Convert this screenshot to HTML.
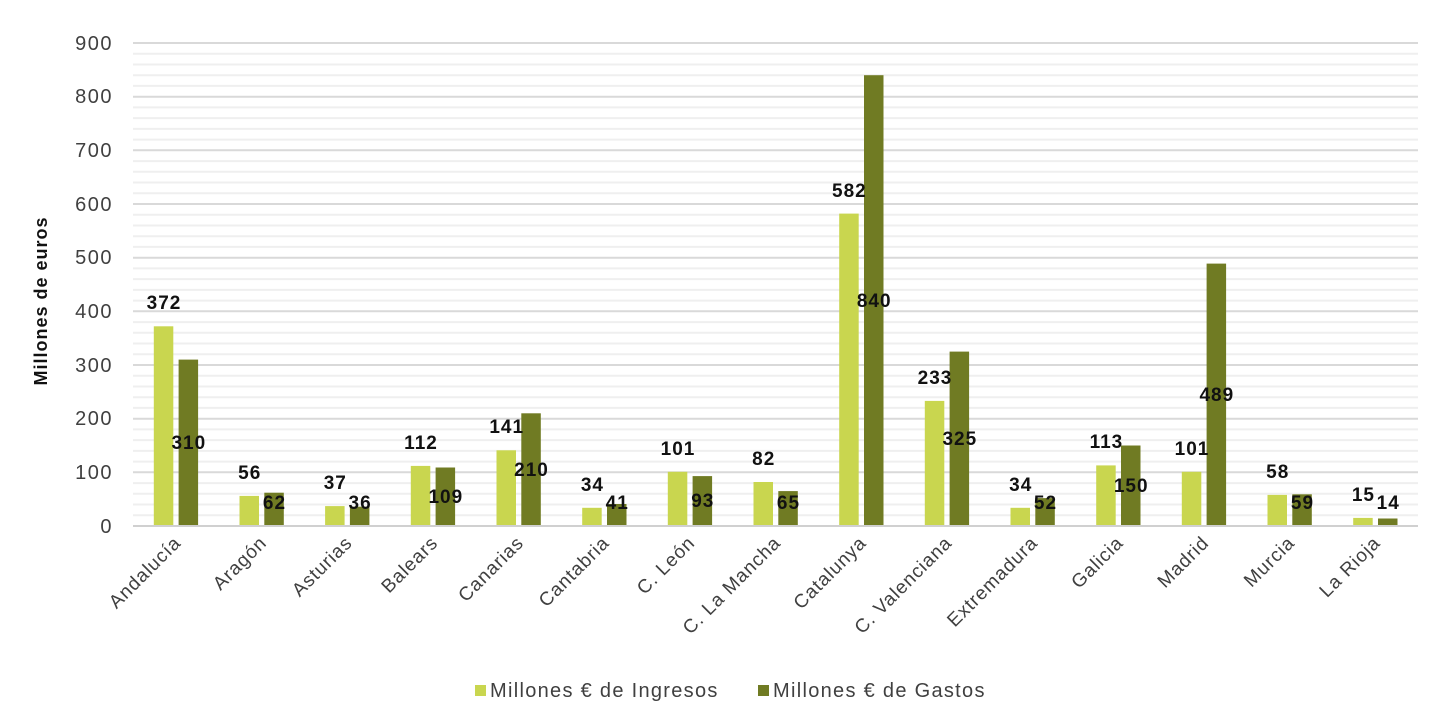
<!DOCTYPE html>
<html><head><meta charset="utf-8"><style>html,body{margin:0;padding:0;background:#fff;}svg{display:block;font-family:"Liberation Sans",sans-serif;}</style></head>
<body>
<svg width="1452" height="718" viewBox="0 0 1452 718">
<g stroke="#efefef" stroke-width="2">
<line x1="133" x2="1418" y1="515.3" y2="515.3"/><line x1="133" x2="1418" y1="504.5" y2="504.5"/><line x1="133" x2="1418" y1="493.8" y2="493.8"/><line x1="133" x2="1418" y1="483.1" y2="483.1"/>
<line x1="133" x2="1418" y1="461.6" y2="461.6"/><line x1="133" x2="1418" y1="450.9" y2="450.9"/><line x1="133" x2="1418" y1="440.1" y2="440.1"/><line x1="133" x2="1418" y1="429.4" y2="429.4"/>
<line x1="133" x2="1418" y1="407.9" y2="407.9"/><line x1="133" x2="1418" y1="397.2" y2="397.2"/><line x1="133" x2="1418" y1="386.5" y2="386.5"/><line x1="133" x2="1418" y1="375.7" y2="375.7"/>
<line x1="133" x2="1418" y1="354.3" y2="354.3"/><line x1="133" x2="1418" y1="343.5" y2="343.5"/><line x1="133" x2="1418" y1="332.8" y2="332.8"/><line x1="133" x2="1418" y1="322.1" y2="322.1"/>
<line x1="133" x2="1418" y1="300.6" y2="300.6"/><line x1="133" x2="1418" y1="289.9" y2="289.9"/><line x1="133" x2="1418" y1="279.1" y2="279.1"/><line x1="133" x2="1418" y1="268.4" y2="268.4"/>
<line x1="133" x2="1418" y1="246.9" y2="246.9"/><line x1="133" x2="1418" y1="236.2" y2="236.2"/><line x1="133" x2="1418" y1="225.5" y2="225.5"/><line x1="133" x2="1418" y1="214.7" y2="214.7"/>
<line x1="133" x2="1418" y1="193.3" y2="193.3"/><line x1="133" x2="1418" y1="182.5" y2="182.5"/><line x1="133" x2="1418" y1="171.8" y2="171.8"/><line x1="133" x2="1418" y1="161.1" y2="161.1"/>
<line x1="133" x2="1418" y1="139.6" y2="139.6"/><line x1="133" x2="1418" y1="128.9" y2="128.9"/><line x1="133" x2="1418" y1="118.1" y2="118.1"/><line x1="133" x2="1418" y1="107.4" y2="107.4"/>
<line x1="133" x2="1418" y1="85.9" y2="85.9"/><line x1="133" x2="1418" y1="75.2" y2="75.2"/><line x1="133" x2="1418" y1="64.5" y2="64.5"/><line x1="133" x2="1418" y1="53.7" y2="53.7"/>
</g>
<g stroke="#d9d9d9" stroke-width="2">
<line x1="133" x2="1418" y1="472.3" y2="472.3"/><line x1="133" x2="1418" y1="418.7" y2="418.7"/><line x1="133" x2="1418" y1="365" y2="365"/><line x1="133" x2="1418" y1="311.3" y2="311.3"/><line x1="133" x2="1418" y1="257.7" y2="257.7"/><line x1="133" x2="1418" y1="204" y2="204"/><line x1="133" x2="1418" y1="150.3" y2="150.3"/><line x1="133" x2="1418" y1="96.7" y2="96.7"/><line x1="133" x2="1418" y1="43" y2="43"/>
</g>
<g font-size="20" fill="#404040" text-anchor="end" letter-spacing="1.5">
<text x="113" y="533">0</text><text x="113" y="479">100</text><text x="113" y="425">200</text><text x="113" y="372">300</text><text x="113" y="318">400</text><text x="113" y="264">500</text><text x="113" y="211">600</text><text x="113" y="157">700</text><text x="113" y="103">800</text><text x="113" y="50">900</text>
</g>
<text transform="translate(47,301) rotate(-90)" text-anchor="middle" font-size="18" font-weight="bold" fill="#111" letter-spacing="1">Millones de euros</text>
<g fill="#c9d64f">
<rect x="153.8" y="326.3" width="19.5" height="199.7"/><rect x="239.5" y="495.9" width="19.5" height="30.1"/><rect x="325.1" y="506.1" width="19.5" height="19.9"/><rect x="410.8" y="465.9" width="19.5" height="60.1"/><rect x="496.5" y="450.3" width="19.5" height="75.7"/><rect x="582.2" y="507.8" width="19.5" height="18.2"/><rect x="667.8" y="471.8" width="19.5" height="54.2"/><rect x="753.5" y="482" width="19.5" height="44"/><rect x="839.2" y="213.6" width="19.5" height="312.4"/><rect x="924.8" y="400.9" width="19.5" height="125.1"/><rect x="1010.5" y="507.8" width="19.5" height="18.2"/><rect x="1096.2" y="465.4" width="19.5" height="60.6"/><rect x="1181.8" y="471.8" width="19.5" height="54.2"/><rect x="1267.5" y="494.9" width="19.5" height="31.1"/><rect x="1353.2" y="517.9" width="19.5" height="8.1"/>
</g>
<g fill="#707b23">
<rect x="178.6" y="359.6" width="19.5" height="166.4"/><rect x="264.3" y="492.7" width="19.5" height="33.3"/><rect x="349.9" y="506.7" width="19.5" height="19.3"/><rect x="435.6" y="467.5" width="19.5" height="58.5"/><rect x="521.3" y="413.3" width="19.5" height="112.7"/><rect x="607" y="504" width="19.5" height="22"/><rect x="692.6" y="476.1" width="19.5" height="49.9"/><rect x="778.3" y="491.1" width="19.5" height="34.9"/><rect x="864" y="75.2" width="19.5" height="450.8"/><rect x="949.6" y="351.6" width="19.5" height="174.4"/><rect x="1035.3" y="498.1" width="19.5" height="27.9"/><rect x="1121" y="445.5" width="19.5" height="80.5"/><rect x="1206.6" y="263.6" width="19.5" height="262.4"/><rect x="1292.3" y="494.3" width="19.5" height="31.7"/><rect x="1378" y="518.5" width="19.5" height="7.5"/>
</g>
<line x1="133" x2="1418" y1="526" y2="526" stroke="#d0d0d0" stroke-width="2"/>
<g font-size="19" font-weight="bold" fill="#111" text-anchor="middle" letter-spacing="1">
<text x="164" y="309">372</text><text x="249.7" y="479">56</text><text x="335.3" y="489">37</text><text x="421" y="449">112</text><text x="506.7" y="433">141</text><text x="592.4" y="491">34</text><text x="678" y="455">101</text><text x="763.7" y="465">82</text><text x="849.4" y="197">582</text><text x="935" y="384">233</text><text x="1020.7" y="491">34</text><text x="1106.4" y="448">113</text><text x="1192" y="455">101</text><text x="1277.7" y="478">58</text><text x="1363.4" y="501">15</text>
<text x="188.8" y="449">310</text><text x="274.5" y="509">62</text><text x="360.1" y="509">36</text><text x="445.8" y="503">109</text><text x="531.5" y="476">210</text><text x="617.2" y="509">41</text><text x="702.8" y="507">93</text><text x="788.5" y="509">65</text><text x="874.2" y="307">840</text><text x="959.8" y="445">325</text><text x="1045.5" y="509">52</text><text x="1131.2" y="492">150</text><text x="1216.8" y="401">489</text><text x="1302.5" y="509">59</text><text x="1388.2" y="509">14</text>
</g>
<g font-size="19" fill="#404040" text-anchor="end" letter-spacing="0.9">
<text transform="translate(182,544) rotate(-45)">Andalucía</text>
<text transform="translate(267.7,544) rotate(-45)">Aragón</text>
<text transform="translate(353.3,544) rotate(-45)">Asturias</text>
<text transform="translate(439,544) rotate(-45)">Balears</text>
<text transform="translate(524.7,544) rotate(-45)">Canarias</text>
<text transform="translate(610.4,544) rotate(-45)">Cantabria</text>
<text transform="translate(696,544) rotate(-45)">C. León</text>
<text transform="translate(781.7,544) rotate(-45)">C. La Mancha</text>
<text transform="translate(867.4,544) rotate(-45)">Catalunya</text>
<text transform="translate(953,544) rotate(-45)">C. Valenciana</text>
<text transform="translate(1038.7,544) rotate(-45)">Extremadura</text>
<text transform="translate(1124.4,544) rotate(-45)">Galicia</text>
<text transform="translate(1210,544) rotate(-45)">Madrid</text>
<text transform="translate(1295.7,544) rotate(-45)">Murcia</text>
<text transform="translate(1381.4,544) rotate(-45)">La Rioja</text>
</g>
<rect x="475" y="685" width="11" height="11" fill="#c9d64f"/>
<text x="490" y="697" font-size="20" fill="#404040" letter-spacing="1.3">Millones € de Ingresos</text>
<rect x="758" y="685" width="11" height="11" fill="#707b23"/>
<text x="773" y="697" font-size="20" fill="#404040" letter-spacing="1.3">Millones € de Gastos</text>
</svg>
</body></html>
